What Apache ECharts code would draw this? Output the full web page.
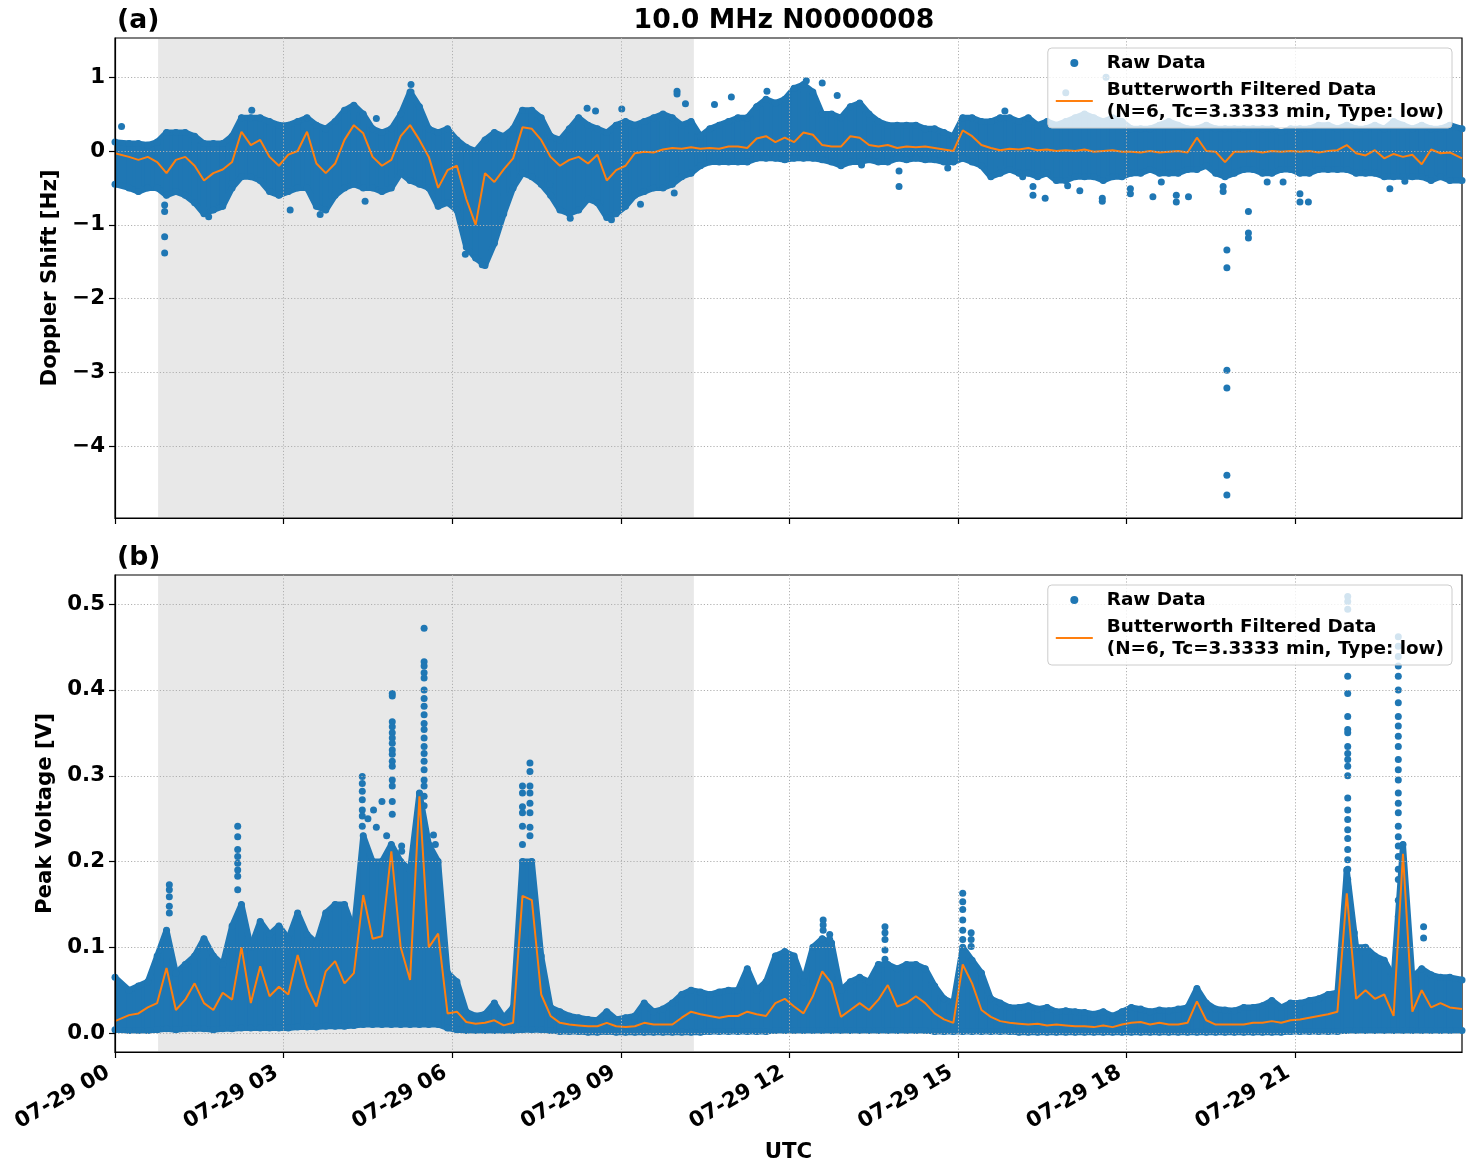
<!DOCTYPE html>
<html><head><meta charset="utf-8">
<script src="https://cdn.jsdelivr.net/npm/echarts@6/dist/echarts.min.js"></script>
<style>html,body{margin:0;padding:0;background:#fff}#c{width:1472px;height:1172px}</style>
</head><body><div id="c"></div>
<script>
// ---------- DATA (minutes after 07-29 00:00 UTC) ----------
const xTickMinutes = [0, 180, 360, 540, 720, 900, 1080, 1260];
const dopplerTicks = [-4, -3, -2, -1, 0, 1];
const voltageTicks = [0, 0.1, 0.2, 0.3, 0.4, 0.5];
const nightSpan = [46, 618];
// 10-minute bins (first at start of record, last at its end)
const binMinutes = [];
for (let i = 0; i < 144; i++) binMinutes.push(i === 0 ? 0 : (i === 143 ? 1438 : i * 10 + 5));

// Doppler shift [Hz]: dense upper / lower edge of raw data per bin, filtered curve
const dopplerHigh = [
0.12,0.10,0.10,0.08,0.12,0.25, 0.25,0.25,0.20,0.10,0.10,0.10,
0.20,0.45,0.45,0.45,0.40,0.35, 0.35,0.40,0.45,0.35,0.30,0.40,
0.55,0.62,0.50,0.30,0.25,0.30, 0.50,0.80,0.60,0.30,0.25,0.30,
0.15,0.05,0.00,0.15,0.25,0.20, 0.30,0.55,0.55,0.45,0.20,0.15,
0.30,0.45,0.35,0.30,0.25,0.35, 0.40,0.35,0.40,0.45,0.50,0.45,
0.35,0.40,0.20,0.30,0.35,0.40, 0.45,0.45,0.60,0.70,0.65,0.70,
0.85,0.90,0.80,0.50,0.50,0.45, 0.60,0.65,0.50,0.40,0.35,0.35,
0.35,0.35,0.30,0.30,0.25,0.20, 0.45,0.45,0.40,0.40,0.45,0.45,
0.40,0.45,0.35,0.40,0.35,0.40, 0.45,0.50,0.45,0.40,0.45,0.40,
0.30,0.30,0.30,0.35,0.40,0.35, 0.30,0.30,0.35,0.30,0.30,0.30,
0.30,0.30,0.30,0.30,0.25,0.30, 0.30,0.30,0.35,0.35,0.30,0.35,
0.30,0.30,0.35,0.30,0.40,0.35, 0.30,0.35,0.30,0.30,0.35,0.30];
const dopplerLow = [
-0.45,-0.50,-0.55,-0.50,-0.50,-0.60, -0.55,-0.60,-0.70,-0.85,-0.80,-0.75,
-0.50,-0.35,-0.35,-0.40,-0.55,-0.60, -0.55,-0.50,-0.50,-0.75,-0.80,-0.60,
-0.50,-0.45,-0.50,-0.50,-0.55,-0.50, -0.30,-0.40,-0.45,-0.50,-0.75,-0.70,
-0.80,-1.30,-1.45,-1.55,-1.25,-0.85, -0.50,-0.30,-0.35,-0.45,-0.60,-0.80,
-0.85,-0.80,-0.65,-0.70,-0.90,-0.85, -0.75,-0.60,-0.55,-0.50,-0.50,-0.45,
-0.35,-0.30,-0.20,-0.15,-0.15,-0.15, -0.15,-0.15,-0.10,-0.10,-0.10,-0.12,
-0.10,-0.10,-0.10,-0.12,-0.15,-0.20, -0.15,-0.15,-0.12,-0.15,-0.15,-0.10,
-0.12,-0.10,-0.12,-0.12,-0.15,-0.15, -0.10,-0.15,-0.20,-0.35,-0.30,-0.25,
-0.30,-0.30,-0.35,-0.30,-0.40,-0.40, -0.35,-0.35,-0.35,-0.40,-0.35,-0.35,
-0.30,-0.30,-0.25,-0.30,-0.30,-0.30, -0.25,-0.25,-0.20,-0.30,-0.35,-0.30,
-0.25,-0.25,-0.30,-0.30,-0.25,-0.25, -0.30,-0.30,-0.25,-0.25,-0.25,-0.25,
-0.30,-0.30,-0.30,-0.35,-0.35,-0.35, -0.35,-0.35,-0.40,-0.35,-0.40,-0.40];
const dopplerFiltered = [
-0.03,-0.08,-0.12,-0.08,-0.15,-0.30, -0.12,-0.08,-0.20,-0.40,-0.30,-0.25,
-0.15,0.26,0.08,0.15,-0.08,-0.20, -0.05,0.00,0.26,-0.17,-0.30,-0.17,
0.15,0.35,0.24,-0.08,-0.20,-0.12, 0.20,0.35,0.15,-0.08,-0.50,-0.26,
-0.20,-0.65,-1.00,-0.30,-0.42,-0.25, -0.10,0.32,0.30,0.15,-0.08,-0.20,
-0.12,-0.08,-0.17,-0.05,-0.40,-0.26, -0.20,-0.03,-0.01,-0.02,0.02,0.04,
0.03,0.05,0.03,0.04,0.03,0.06, 0.06,0.04,0.17,0.20,0.12,0.18,
0.12,0.25,0.22,0.08,0.06,0.06, 0.20,0.18,0.08,0.06,0.08,0.04,
0.06,0.05,0.06,0.04,0.02,0.00, 0.28,0.20,0.08,0.04,0.01,0.03,
0.02,0.04,0.01,0.02,0.00,0.01, 0.00,0.02,-0.01,0.00,0.01,-0.01,
-0.01,-0.02,0.00,-0.02,-0.01,0.00, -0.02,0.18,0.00,-0.01,-0.15,-0.01,
-0.01,0.00,-0.02,0.00,-0.01,0.00, -0.01,0.00,-0.02,0.00,0.01,0.08,
-0.03,-0.06,0.01,-0.10,-0.04,-0.08, -0.05,-0.18,0.02,-0.03,-0.02,-0.10];
// isolated raw Doppler points [minute, Hz]
const dopplerOutliers = [
[7,0.33],[53,-0.73],[53,-0.82],[53,-1.16],[53,-1.38],[100,-0.89],[125,-0.44],[146,0.55],
[187,-0.80],[219,-0.86],[267,-0.68],[279,0.44],[316,0.90],[316,0.80],[374,-1.40],[392,-1.54],
[464,-0.45],[486,-0.91],[504,0.58],[513,0.54],[530,-0.93],[541,0.57],[561,-0.72],[597,-0.57],
[600,0.81],[600,0.77],[609,0.64],[640,0.63],[658,0.73],[696,0.81],[738,0.95],[755,0.92],
[771,0.75],[797,-0.19],[837,-0.27],[837,-0.48],[889,-0.23],[950,0.54],[969,-0.35],[980,-0.48],
[980,-0.60],[993,-0.64],[1015,0.79],[1017,-0.47],[1030,-0.54],[1054,-0.64],[1054,-0.68],[1058,1.00],
[1084,-0.51],[1084,-0.58],[1108,-0.62],[1117,-0.42],[1133,-0.60],[1133,-0.69],[1146,-0.62],
[1183,-0.48],[1183,-0.55],[1187,-1.34],[1187,-1.58],[1187,-2.97],[1187,-3.21],[1187,-4.39],[1187,-4.66],
[1210,-0.82],[1210,-1.11],[1210,-1.18],[1230,-0.42],[1247,-0.42],[1265,-0.58],[1265,-0.69],
[1274,-0.69],[1361,-0.51],[1377,-0.41]];

// Peak voltage [V]
const voltageHigh = [
0.065,0.050,0.055,0.060,0.090,0.120, 0.070,0.080,0.090,0.110,0.090,0.080,
0.125,0.150,0.100,0.130,0.115,0.125, 0.110,0.140,0.115,0.105,0.140,0.150,
0.150,0.120,0.230,0.200,0.200,0.220, 0.200,0.190,0.280,0.220,0.200,0.070,
0.060,0.025,0.020,0.022,0.035,0.018, 0.030,0.200,0.200,0.090,0.030,0.025,
0.020,0.018,0.016,0.015,0.025,0.016, 0.018,0.020,0.035,0.025,0.028,0.035,
0.045,0.050,0.048,0.045,0.048,0.050, 0.050,0.075,0.050,0.060,0.090,0.095,
0.090,0.060,0.100,0.110,0.105,0.050, 0.060,0.065,0.060,0.080,0.080,0.075,
0.080,0.080,0.075,0.055,0.040,0.035, 0.100,0.085,0.070,0.040,0.035,0.030,
0.030,0.032,0.028,0.030,0.025,0.026, 0.025,0.024,0.022,0.025,0.020,0.025,
0.030,0.028,0.025,0.027,0.026,0.028, 0.030,0.052,0.035,0.028,0.027,0.026,
0.030,0.030,0.032,0.038,0.030,0.035, 0.035,0.038,0.040,0.045,0.047,0.190,
0.100,0.100,0.090,0.085,0.065,0.220, 0.065,0.075,0.068,0.065,0.065,0.062];
const voltageLow = [
0.004,0.003,0.003,0.003,0.004,0.005, 0.004,0.005,0.005,0.005,0.004,0.005,
0.005,0.006,0.006,0.006,0.006,0.006, 0.006,0.007,0.007,0.007,0.008,0.008,
0.008,0.009,0.010,0.010,0.010,0.010, 0.010,0.010,0.010,0.010,0.010,0.006,
0.004,0.003,0.003,0.003,0.003,0.003, 0.003,0.004,0.004,0.004,0.003,0.002,
0.002,0.002,0.001,0.001,0.002,0.001, 0.001,0.001,0.001,0.001,0.001,0.001,
0.001,0.001,0.001,0.002,0.002,0.002, 0.002,0.002,0.002,0.002,0.003,0.003,
0.003,0.003,0.003,0.003,0.003,0.003, 0.003,0.003,0.003,0.003,0.003,0.003,
0.003,0.003,0.003,0.002,0.002,0.002, 0.002,0.002,0.002,0.002,0.002,0.002,
0.001,0.001,0.001,0.001,0.001,0.001, 0.001,0.001,0.001,0.001,0.001,0.001,
0.001,0.001,0.001,0.001,0.001,0.001, 0.001,0.001,0.001,0.001,0.001,0.001,
0.001,0.001,0.001,0.001,0.001,0.002, 0.002,0.002,0.002,0.002,0.002,0.003,
0.003,0.003,0.003,0.003,0.003,0.003, 0.003,0.003,0.003,0.003,0.003,0.003];
const voltageFiltered = [
0.014,0.021,0.023,0.030,0.035,0.076, 0.027,0.039,0.058,0.035,0.027,0.047,
0.039,0.100,0.035,0.078,0.043,0.054, 0.045,0.091,0.054,0.031,0.072,0.084,
0.058,0.070,0.161,0.110,0.113,0.212, 0.100,0.062,0.276,0.100,0.116,0.023,
0.025,0.013,0.011,0.012,0.015,0.009, 0.012,0.160,0.155,0.045,0.020,0.012,
0.010,0.009,0.008,0.008,0.012,0.008, 0.007,0.008,0.012,0.010,0.010,0.010,
0.018,0.025,0.022,0.020,0.018,0.020, 0.020,0.025,0.022,0.020,0.035,0.040,
0.031,0.023,0.043,0.072,0.058,0.019, 0.027,0.035,0.027,0.039,0.056,0.031,
0.035,0.043,0.035,0.023,0.016,0.012, 0.080,0.058,0.027,0.019,0.014,0.012,
0.011,0.010,0.011,0.009,0.010,0.009, 0.008,0.008,0.007,0.009,0.007,0.010,
0.012,0.013,0.010,0.012,0.010,0.010, 0.012,0.037,0.015,0.010,0.010,0.010,
0.010,0.012,0.012,0.014,0.012,0.015, 0.016,0.018,0.020,0.022,0.025,0.163,
0.040,0.050,0.040,0.045,0.020,0.209, 0.025,0.050,0.030,0.035,0.030,0.028];
// isolated raw voltage points (spike columns) [minute, V]
const voltageOutliers = [
[58,0.173],[58,0.167],[58,0.159],[58,0.148],[58,0.140],
[131,0.241],[131,0.229],[131,0.214],[131,0.206],[131,0.198],[131,0.190],[131,0.183],[131,0.167],
[264,0.299],[264,0.291],[264,0.282],[264,0.272],[264,0.260],[264,0.253],[264,0.241],
[270,0.250],[276,0.260],[279,0.240],[285,0.270],[290,0.230],
[296,0.396],[296,0.393],[296,0.363],[296,0.357],[296,0.350],[296,0.344],[296,0.338],[296,0.330],
[296,0.325],[296,0.317],[296,0.311],[296,0.295],[296,0.288],[296,0.270],[296,0.255],
[306,0.218],[306,0.212],
[330,0.472],[330,0.433],[330,0.428],[330,0.420],[330,0.414],[330,0.400],[330,0.390],[330,0.381],
[330,0.371],[330,0.361],[330,0.354],[330,0.344],[330,0.334],[330,0.326],[330,0.317],[330,0.307],
[330,0.295],[330,0.288],[330,0.276],[330,0.265],
[340,0.231],[342,0.220],
[435,0.288],[435,0.280],[435,0.264],[435,0.257],[435,0.241],[435,0.220],
[443,0.315],[443,0.305],[443,0.288],[443,0.280],[443,0.268],[443,0.257],[443,0.240],[443,0.230],
[756,0.132],[756,0.126],[756,0.120],[763,0.115],[763,0.109],
[815,0.074],[822,0.124],[822,0.117],[822,0.109],[822,0.097],[822,0.086],
[905,0.163],[905,0.153],[905,0.144],[905,0.132],[905,0.120],[905,0.109],
[914,0.117],[914,0.109],[914,0.101],
[1316,0.509],[1316,0.503],[1316,0.494],[1316,0.416],[1316,0.396],[1316,0.369],[1316,0.354],[1316,0.350],
[1316,0.334],[1316,0.326],[1316,0.319],[1316,0.311],[1316,0.300],[1316,0.274],[1316,0.260],[1316,0.249],
[1316,0.237],[1316,0.227],[1316,0.214],[1316,0.202],[1316,0.191],[1316,0.179],[1316,0.171],[1316,0.155],[1316,0.140],
[1320,0.124],[1323,0.117],
[1370,0.462],[1370,0.451],[1370,0.439],[1370,0.428],[1370,0.416],[1370,0.400],[1370,0.385],[1370,0.369],
[1370,0.358],[1370,0.346],[1370,0.334],[1370,0.319],[1370,0.307],[1370,0.295],[1370,0.280],[1370,0.268],
[1370,0.257],[1370,0.241],[1370,0.229],[1370,0.218],[1370,0.206],[1370,0.191],[1370,0.179],[1370,0.155],[1370,0.136],
[1397,0.124],[1397,0.111]];

// ---------- CHART ----------
const BLUE = '#1f77b4', ORANGE = '#ff7f0e', FONT = 'DejaVu Sans';
const RAW = 'Raw Data', FILT = 'Butterworth Filtered Data';
const pts = arr => binMinutes.map((t, i) => [t, arr[i]]);
// band segments between consecutive bins: [t0, lo0, hi0, t1, lo1, hi1]
const bandSegs = (hi, lo) => binMinutes.slice(0, -1).map((t, i) =>
  [t, lo[i], hi[i], binMinutes[i + 1], lo[i + 1], hi[i + 1]]);
const fmtX = v => '07-29 ' + String(Math.round(v / 60)).padStart(2, '0');

function xAxisCfg(idx, showLabels) {
  return {
    type: 'value', gridIndex: idx, min: 0, max: 1438,
    axisLine: { show: true, onZero: false, lineStyle: { color: '#000', width: 1.2 } },
    axisTick: { show: true, length: 6, customValues: xTickMinutes, lineStyle: { color: '#000', width: 1.2 } },
    axisLabel: { show: showLabels, customValues: xTickMinutes, formatter: fmtX, rotate: 30, margin: 15,
      padding: [0, 8, 0, 0],
      color: '#000', fontFamily: FONT, fontWeight: 'bold', fontSize: 21.33 },
    splitLine: { show: true, lineStyle: { color: '#b0b0b0', width: 1, type: [1.2, 2] } },
    name: showLabels ? 'UTC' : '', nameLocation: 'middle', nameGap: 90,
    nameTextStyle: { color: '#000', fontFamily: FONT, fontWeight: 'bold', fontSize: 21.33 },
    z: 5
  };
}
function yAxisCfg(idx, min, max, ticks, fmt, name, gap) {
  return {
    type: 'value', gridIndex: idx, min: min, max: max,
    axisLine: { show: true, lineStyle: { color: '#000', width: 1.2 } },
    axisTick: { show: true, length: 6, customValues: ticks, lineStyle: { color: '#000', width: 1.2 } },
    axisLabel: { customValues: ticks, formatter: fmt, margin: 10, color: '#000',
      fontFamily: FONT, fontWeight: 'bold', fontSize: 21.33 },
    splitLine: { show: true, lineStyle: { color: '#b0b0b0', width: 1, type: [1.2, 2] } },
    name: name, nameLocation: 'middle', nameGap: gap,
    nameTextStyle: { color: '#000', fontFamily: FONT, fontWeight: 'bold', fontSize: 21.33 },
    z: 5
  };
}
function bandRender(params, api) {
  const a = api.coord([api.value(0), api.value(1)]);
  const b = api.coord([api.value(0), api.value(2)]);
  const c = api.coord([api.value(3), api.value(5)]);
  const d = api.coord([api.value(3), api.value(4)]);
  return { type: 'polygon', shape: { points: [a, b, c, d] },
    style: { fill: BLUE, stroke: BLUE, lineWidth: 6, lineJoin: 'round' } };
}
function panelSeries(idx, hi, lo, filt, outl) {
  return [
    { type: 'line', xAxisIndex: idx, yAxisIndex: idx, data: [], silent: true, z: 1,
      markArea: { silent: true, itemStyle: { color: 'rgba(128,128,128,0.18)' },
        data: [[{ xAxis: nightSpan[0] }, { xAxis: nightSpan[1] }]] } },
    { type: 'custom', name: '_band' + idx, xAxisIndex: idx, yAxisIndex: idx, clip: true,
      renderItem: bandRender, encode: { x: [0, 3], y: [1, 2, 4, 5] },
      data: bandSegs(hi, lo), silent: true, z: 2 },
    { type: 'scatter', name: RAW, xAxisIndex: idx, yAxisIndex: idx, symbol: 'circle', symbolSize: 7,
      itemStyle: { color: BLUE, opacity: 1 }, data: pts(hi).concat(pts(lo), outl), silent: true, z: 2 },
    { type: 'line', name: FILT, xAxisIndex: idx, yAxisIndex: idx, data: pts(filt), symbol: 'none',
      lineStyle: { color: ORANGE, width: 2 }, itemStyle: { color: ORANGE }, silent: true, z: 3 }
  ];
}
function legendCfg(top) {
  return {
    top: top, right: 20, orient: 'vertical', align: 'left', selectedMode: false,
    itemWidth: 37, itemHeight: 8, itemGap: 5, padding: [4, 8, 5, 8],
    backgroundColor: 'rgba(255,255,255,0.8)', borderColor: '#cccccc', borderWidth: 1, borderRadius: 4,
    data: [{ name: RAW, icon: 'circle', itemStyle: { opacity: 1 } }, { name: FILT, icon: 'path://M0,0L37,0L37,2L0,2Z' }],
    formatter: n => n === FILT ? n + '\n(N=6, Tc=3.3333 min, Type: low)' : n,
    textStyle: { color: '#000', fontFamily: FONT, fontWeight: 'bold', fontSize: 18.4, lineHeight: 22, padding: [0, 0, 0, 9] },
    z: 10
  };
}
const minusFmt = v => (v < 0 ? '\u2212' + Math.abs(v) : String(v));
const chart = echarts.init(document.getElementById('c'), null, { renderer: 'canvas' });
chart.setOption({
  animation: false,
  backgroundColor: '#fff',
  grid: [
    { left: 115, right: 10, top: 38, height: 480, show: true, borderColor: '#000', borderWidth: 1.2, backgroundColor: 'transparent' },
    { left: 115, right: 10, top: 575, height: 477, show: true, borderColor: '#000', borderWidth: 1.2, backgroundColor: 'transparent' }
  ],
  xAxis: [xAxisCfg(0, false), xAxisCfg(1, true)],
  yAxis: [
    yAxisCfg(0, -4.97, 1.53, dopplerTicks, minusFmt, 'Doppler Shift [Hz]', 44),
    yAxisCfg(1, -0.022, 0.534, voltageTicks, v => v.toFixed(1), 'Peak Voltage [V]', 48)
  ],
  legend: [legendCfg(48), legendCfg(585)],
  graphic: [
    { type: 'text', x: 117, y: 21, style: { text: '(a)', font: 'bold 26.67px "DejaVu Sans"', fill: '#000', textVerticalAlign: 'middle' } },
    { type: 'text', x: 784, y: 21, style: { text: '10.0 MHz N0000008', font: 'bold 26.67px "DejaVu Sans"', fill: '#000', textAlign: 'center', textVerticalAlign: 'middle' } },
    { type: 'text', x: 117, y: 558, style: { text: '(b)', font: 'bold 26.67px "DejaVu Sans"', fill: '#000', textVerticalAlign: 'middle' } }
  ],
  series: panelSeries(0, dopplerHigh, dopplerLow, dopplerFiltered, dopplerOutliers)
    .concat(panelSeries(1, voltageHigh, voltageLow, voltageFiltered, voltageOutliers))
});
</script></body></html>
